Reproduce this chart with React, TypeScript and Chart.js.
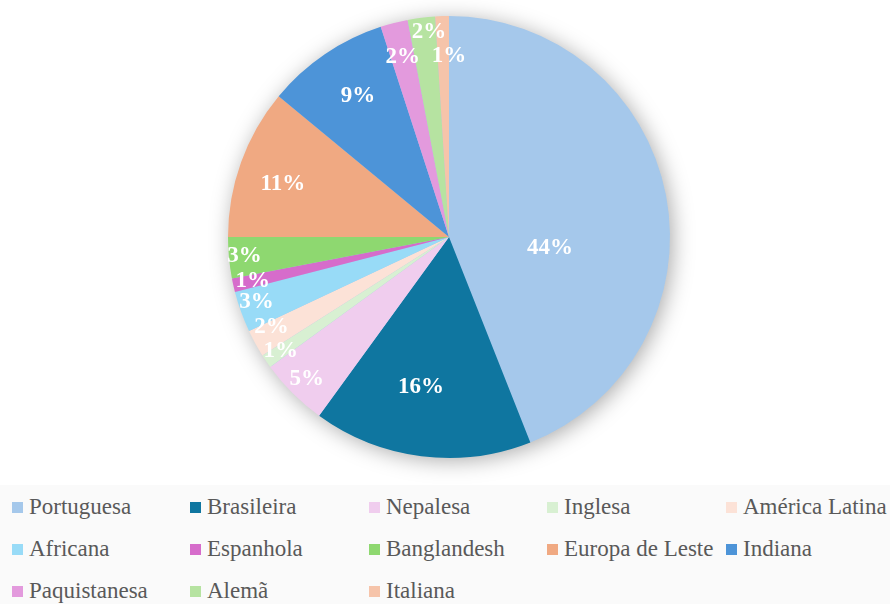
import React, { useEffect, useRef } from "react";
import { Chart, registerables } from "chart.js";

Chart.register(...registerables);

const categories = [
  "Portuguesa",
  "Brasileira",
  "Nepalesa",
  "Inglesa",
  "América Latina",
  "Africana",
  "Espanhola",
  "Banglandesh",
  "Europa de Leste",
  "Indiana",
  "Paquistanesa",
  "Alemã",
  "Italiana",
];

const percentages = [44, 16, 5, 1, 2, 3, 1, 3, 11, 9, 2, 2, 1];

const colors = [
  "#A5C8EB",
  "#0F76A0",
  "#F0CDEE",
  "#D8F0D2",
  "#FCE2D7",
  "#98DBF7",
  "#D66CCB",
  "#8ED870",
  "#F0A982",
  "#4D94D8",
  "#E39ADD",
  "#B6E3A1",
  "#F6C4AA",
];

// label placement: [radius fraction, angle offset in degrees]
const labelPlacement: [number, number][] = [
  [0.46, 17],
  [0.69, 3.4],
  [0.91, 0],
  [0.92, 0],
  [0.9, 2],
  [0.92, 1],
  [0.91, 0],
  [0.93, 0],
  [0.79, -2],
  [0.76, 1.4],
  [0.84, 0],
  [0.93, 1.6],
  [0.82, 1.8],
];

const shadowPlugin = {
  id: "pieShadow",
  beforeDatasetsDraw(chart: any) {
    const meta = chart.getDatasetMeta(0);
    const arc = meta.data[0];
    if (!arc) return;
    const { x, y, outerRadius } = arc;
    const ctx = chart.ctx;
    ctx.save();
    ctx.shadowColor = "rgba(0,0,0,0.35)";
    ctx.shadowBlur = 22;
    ctx.shadowOffsetX = 3;
    ctx.shadowOffsetY = 3;
    ctx.beginPath();
    ctx.arc(x, y, outerRadius - 1, 0, Math.PI * 2);
    ctx.fillStyle = "#A5C8EB";
    ctx.fill();
    ctx.restore();
  },
};

const labelPlugin = {
  id: "pctLabels",
  afterDatasetsDraw(chart: any) {
    const meta = chart.getDatasetMeta(0);
    const ctx = chart.ctx;
    ctx.save();
    ctx.fillStyle = "#FFFFFF";
    ctx.font = "bold 23px 'Liberation Serif', 'Times New Roman', serif";
    ctx.textAlign = "center";
    ctx.textBaseline = "middle";
    meta.data.forEach((arc: any, i: number) => {
      const [frac, off] = labelPlacement[i];
      const mid = (arc.startAngle + arc.endAngle) / 2 + (off * Math.PI) / 180;
      const r = arc.outerRadius * frac;
      const lx = arc.x + r * Math.cos(mid);
      const ly = arc.y + r * Math.sin(mid);
      ctx.fillText(`${percentages[i]}%`, lx, ly);
    });
    ctx.restore();
  },
};

export default function App() {
  const canvasRef = useRef<HTMLCanvasElement | null>(null);

  useEffect(() => {
    document.body.style.margin = "0";
    const canvas = canvasRef.current;
    if (!canvas) return;
    const chart = new Chart(canvas, {
      type: "pie",
      data: {
        labels: categories,
        datasets: [
          {
            data: percentages,
            backgroundColor: colors,
            borderWidth: 0,
          },
        ],
      },
      options: {
        animation: false,
        responsive: false,
        maintainAspectRatio: false,
        layout: { padding: { top: 16, bottom: 27, left: 8, right: 0 } },
        plugins: {
          legend: { display: false },
          tooltip: { enabled: false },
        },
      },
      plugins: [shadowPlugin, labelPlugin],
    });
    return () => chart.destroy();
  }, []);

  const colLeft = [12, 190, 369, 547, 726];
  const rowCenter = [507, 549, 591];

  return (
    <div
      style={{
        position: "absolute",
        left: 0,
        top: 0,
        width: 890,
        height: 604,
        background: "#FFFFFF",
        overflow: "hidden",
      }}
    >
      <canvas
        ref={canvasRef}
        width={890}
        height={485}
        style={{ position: "absolute", left: 0, top: 0, width: 890, height: 485 }}
      />
      <div
        style={{
          position: "absolute",
          left: 0,
          top: 485,
          width: 890,
          height: 119,
          background: "#FAFAFA",
        }}
      />
      {categories.map((c, i) => {
        const col = i % 5;
        const row = Math.floor(i / 5);
        return (
          <div
            key={c}
            style={{
              position: "absolute",
              left: colLeft[col],
              top: rowCenter[row] - 15,
              height: 30,
              display: "flex",
              alignItems: "center",
              whiteSpace: "nowrap",
              fontFamily: "'Liberation Serif', 'Times New Roman', serif",
              fontSize: 23,
              color: "#595959",
            }}
          >
            <span
              style={{
                display: "inline-block",
                width: 11,
                height: 11,
                background: colors[i],
                marginRight: 6,
              }}
            />
            <span>{c}</span>
          </div>
        );
      })}
    </div>
  );
}
